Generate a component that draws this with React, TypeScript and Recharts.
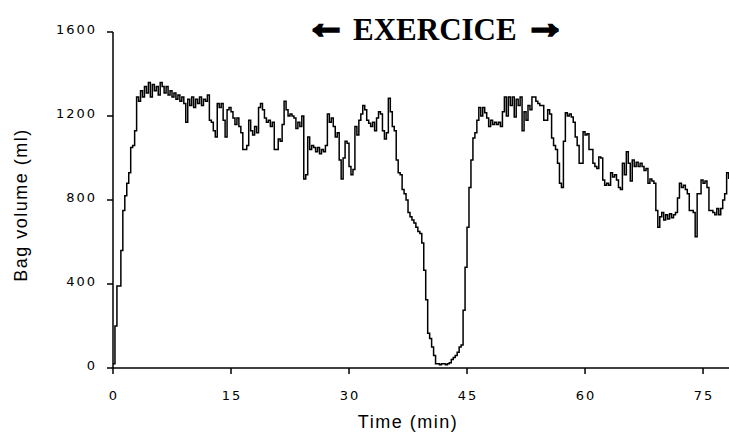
import { LineChart, Line, XAxis, YAxis } from "recharts";

// bag volume (ml), one reading every quarter minute from t = 0
const bagVolume = [
  // 0 - 5 min
  20, 200, 390, 390, 560, 750, 820, 880, 930, 1050, 1060, 1130, 1290, 1270, 1320, 1290, 1340, 1310, 1360, 1290,
  // 5 - 10
  1350, 1320, 1340, 1300, 1360, 1340, 1310, 1340, 1300, 1320, 1290, 1310, 1280, 1300, 1270, 1290, 1260, 1170, 1280, 1250,
  // 10 - 15
  1290, 1240, 1280, 1260, 1290, 1250, 1280, 1270, 1300, 1180, 1170, 1130, 1100, 1260, 1240, 1260, 1180, 1100, 1230, 1240,
  // 15 - 20
  1220, 1190, 1160, 1190, 1150, 1120, 1040, 1040, 1060, 1180, 1130, 1110, 1150, 1120, 1240, 1260, 1230, 1190, 1170, 1180,
  // 20 - 25
  1150, 1170, 1040, 1040, 1090, 1080, 1160, 1270, 1230, 1200, 1210, 1200, 1190, 1140, 1170, 1150, 1200, 900, 920, 1100,
  // 25 - 30
  1040, 1060, 1050, 1030, 1050, 1020, 1040, 1030, 1060, 1210, 1170, 1190, 1150, 1100, 1120, 990, 900, 1000, 1080, 1070,
  // 30 - 35
  960, 920, 945, 1150, 1110, 1180, 1210, 1250, 1230, 1180, 1165, 1150, 1170, 1130, 1190, 1220, 1210, 1130, 1090, 1120,
  // 35 - 40
  1285, 1220, 1150, 1130, 990, 930, 920, 850, 830, 800, 740, 720, 705, 690, 670, 650, 640, 595, 465, 325,
  // 40 - 45
  165, 140, 100, 60, 20, 20, 15, 20, 20, 15, 20, 25, 40, 50, 60, 75, 100, 110, 275, 480,
  // 45 - 50
  670, 860, 990, 1095, 1120, 1180, 1240, 1200, 1240, 1215, 1190, 1150, 1180, 1160, 1170, 1160, 1170, 1150, 1220, 1290,
  // 50 - 55
  1200, 1290, 1250, 1290, 1195, 1280, 1250, 1290, 1130, 1220, 1180, 1250, 1230, 1290, 1290, 1270, 1260, 1250, 1250, 1180,
  // 55 - 60
  1180, 1230, 1210, 1095, 1060, 1040, 975, 880, 860, 1080, 1215, 1200, 1210, 1195, 1170, 1100, 1060, 975, 975, 1125,
  // 60 - 65
  1110, 1115, 1040, 1040, 975, 960, 950, 1005, 1000, 895, 870, 880, 870, 930, 910, 920, 895, 860, 850, 975,
  // 65 - 70
  920, 1030, 975, 890, 990, 960, 980, 960, 975, 960, 940, 950, 880, 900, 890, 880, 750, 670, 720, 740,
  // 70 - 75
  705, 730, 710, 735, 715, 730, 740, 810, 880, 860, 870, 850, 830, 750, 750, 740, 625, 830, 830, 895,
  // 75 - 78.25
  880, 890, 860, 750, 750, 740, 730, 760, 730, 760, 800, 830, 930, 900,
];
const STEP_MIN = 0.25;

const timeTicks = [0, 15, 30, 45, 60, 75];
const volumeTicks = [0, 400, 800, 1200, 1600];

const data = bagVolume.map((v, i) => ({ t: i * STEP_MIN, v }));

const tickFont = { fontFamily: "DejaVu Sans", fontSize: 13, letterSpacing: 2, fill: "#000" };
const labelFont = { fontFamily: "Liberation Sans", fontSize: 18, letterSpacing: 1.5, fill: "#000" };

function YTick({ x, y, payload }: any) {
  return (
    <text x={x + 1} y={y - 3} dy="0.355em" textAnchor="end" {...tickFont}>
      {payload.value}
    </text>
  );
}

function XTick({ x, y, payload }: any) {
  return (
    <text x={x + 1} y={y} dy="0.71em" textAnchor="middle" {...tickFont}>
      {payload.value}
    </text>
  );
}

const arrow = {
  position: "absolute" as const,
  top: 3,
  fontFamily: "Liberation Sans",
  fontWeight: "bold" as const,
  fontSize: 40,
  lineHeight: "40px",
  WebkitTextStroke: "3.5px #000",
};

export default function App() {
  return (
    <div style={{ position: "absolute", left: 0, top: 0, width: 729, height: 436, background: "#fff" }}>
      <span style={{ ...arrow, left: 306 }}>←</span>
      <span
        style={{
          position: "absolute",
          left: 353,
          top: 12,
          fontFamily: "Liberation Serif",
          fontWeight: "bold",
          fontSize: 31,
          lineHeight: "36px",
          whiteSpace: "nowrap",
        }}
      >
        EXERCICE
      </span>
      <span style={{ ...arrow, left: 525 }}>→</span>
      <LineChart width={729} height={436} data={data} margin={{ top: 32, right: 0, left: 0, bottom: 0 }}>
        <XAxis
          dataKey="t"
          type="number"
          domain={[0, 78.3]}
          ticks={timeTicks}
          height={68}
          tickSize={6}
          tickMargin={17}
          axisLine={{ stroke: "#000", strokeWidth: 1.5 }}
          tickLine={{ stroke: "#000", strokeWidth: 1.5 }}
          tick={<XTick />}
          label={{
            value: "Time (min)",
            content: () => (
              <text x={408} y={428} textAnchor="middle" {...labelFont}>
                Time (min)
              </text>
            ),
          }}
        />
        <YAxis
          type="number"
          domain={[0, 1600]}
          ticks={volumeTicks}
          width={113}
          tickSize={6}
          tickMargin={11}
          axisLine={{ stroke: "#000", strokeWidth: 1.5 }}
          tickLine={{ stroke: "#000", strokeWidth: 1.5 }}
          tick={<YTick />}
          label={{
            value: "Bag volume (ml)",
            content: () => (
              <text x={27} y={205} textAnchor="middle" transform="rotate(-90 27 205)" {...labelFont}>
                Bag volume (ml)
              </text>
            ),
          }}
        />
        <Line
          dataKey="v"
          type="stepAfter"
          stroke="#000"
          strokeWidth={1.5}
          dot={false}
          isAnimationActive={false}
        />
      </LineChart>
    </div>
  );
}
